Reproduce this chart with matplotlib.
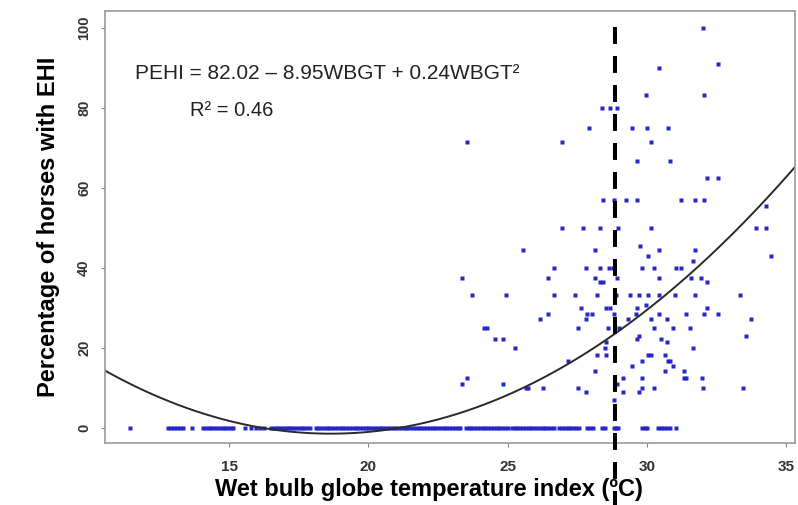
import numpy as np
import matplotlib
matplotlib.use('Agg')
import matplotlib.pyplot as plt

plt.rcParams['font.family'] = ['Liberation Sans', 'DejaVu Sans']

# fitted curve: PEHI = a + b*WBGT + c*WBGT^2
a, b, c = 82.02, -8.95, 0.24
cutoff = 28.85

# horses with EHI > 0
pos_x = [32.02, 32.56, 30.43, 29.95, 32.04, 28.39, 28.69, 28.91, 27.91, 29.45, 30.02, 30.74,
         23.55, 26.96, 30.13, 29.63, 30.82, 32.14, 32.56, 28.43, 28.82, 29.24, 29.63, 31.24,
         31.72, 32.04, 34.29, 26.96, 27.69, 28.31, 28.97, 30.13, 33.93, 34.29, 29.74, 25.56,
         28.13, 30.43, 31.72, 34.45, 30.04, 31.64,
         26.67, 27.81, 28.33, 28.64, 28.79, 29.84, 30.25, 31.04, 31.24,
         23.35, 26.45, 28.13, 28.93, 30.44, 31.57, 31.93,
         28.31, 28.41, 32.14,
         23.73, 24.94, 26.67, 27.41, 28.21, 28.88, 29.38, 29.72, 30.04, 30.44, 31.0, 31.72, 33.34,
         27.62, 28.52, 28.69, 29.65, 29.96, 32.14,
         26.45, 27.83, 28.01, 28.81, 29.60, 30.44, 31.42, 32.04, 32.56,
         26.16, 27.81, 29.33, 30.13, 30.72, 33.75,
         24.16, 24.24, 27.53, 28.61, 29.00, 30.25, 30.92, 31.54,
         29.72, 29.65, 24.54, 24.84, 30.52, 30.72, 33.55,
         28.52, 28.49, 25.26, 31.64,
         28.21, 28.52, 30.04, 30.13, 30.64,
         27.17, 29.84, 30.76, 30.82,
         29.45, 30.94,
         28.13, 30.64, 31.32,
         23.55, 29.15, 29.84, 31.32, 31.42, 31.96,
         23.35, 24.84, 28.93,
         25.65, 25.74, 26.27, 27.53, 29.84, 30.25, 32.02, 33.45,
         27.81, 29.15, 29.72,
         28.81]
pos_y = [100, 90.9, 90, 83.3, 83.3, 80, 80, 80, 75, 75, 75, 75,
         71.4, 71.4, 71.4, 66.7, 66.7, 62.5, 62.5, 57.1, 57.1, 57.1, 57.1, 57.1,
         57.1, 57.1, 55.6, 50, 50, 50, 50, 50, 50, 50, 45.5, 44.4,
         44.4, 44.4, 44.4, 42.9, 42.9, 41.7,
         40, 40, 40, 40, 40, 40, 40, 40, 40,
         37.5, 37.5, 37.5, 37.5, 37.5, 37.5, 37.5,
         36.4, 36.4, 36.4,
         33.3, 33.3, 33.3, 33.3, 33.3, 33.3, 33.3, 33.3, 33.3, 33.3, 33.3, 33.3, 33.3,
         30, 30, 30, 30, 30.8, 30,
         28.6, 28.6, 28.6, 28.6, 28.6, 28.6, 28.6, 28.6, 28.6,
         27.3, 27.3, 27.3, 27.3, 27.3, 27.3,
         25, 25, 25, 25, 25, 25, 25, 25,
         23.1, 22.2, 22.2, 22.2, 22.2, 21.4, 23.1,
         21.4, 20, 20, 20,
         18.2, 18.2, 18.2, 18.2, 18.2,
         16.7, 16.7, 16.7, 16.7,
         15.4, 15.4,
         14.3, 14.3, 14.3,
         12.5, 12.5, 12.5, 12.5, 12.5, 12.5,
         11.1, 11.1, 11.1,
         10, 10, 10, 10, 10, 10, 10, 10,
         9.1, 9.1, 9.1,
         7.1]

# horses with EHI = 0
zero_x = [11.44,
          12.81, 12.92, 13.03, 13.14, 13.25, 13.35,
          13.66,
          14.06, 14.16, 14.26, 14.36, 14.46, 14.56, 14.66, 14.76, 14.86, 14.96, 15.06, 15.14,
          15.55, 15.8, 15.95, 16.1, 16.25,
          16.5, 16.6, 16.7, 16.8, 16.9, 17.0, 17.1, 17.2, 17.3, 17.4, 17.5, 17.6, 17.7, 17.8, 17.9,
          18.1, 18.2, 18.3, 18.4, 18.5, 18.6, 18.7, 18.8, 18.9, 19.0, 19.1, 19.2, 19.3, 19.4,
          19.5, 19.6, 19.7, 19.8, 19.9, 20.0, 20.1, 20.2, 20.3, 20.4, 20.5, 20.6, 20.7, 20.8,
          20.9, 21.0, 21.1, 21.2, 21.3, 21.4, 21.5, 21.6, 21.7, 21.8, 21.9, 22.0, 22.1, 22.2,
          22.3, 22.4, 22.5, 22.6, 22.7, 22.8, 22.9, 23.0, 23.1, 23.2, 23.3,
          23.5, 23.6, 23.7, 23.8, 23.9, 24.0, 24.1, 24.2, 24.3, 24.4, 24.5, 24.6, 24.7, 24.8,
          24.9, 25.0,
          25.15, 25.25, 25.35, 25.45, 25.55, 25.65, 25.75, 25.85, 25.95, 26.05, 26.15, 26.25,
          26.35, 26.45, 26.55, 26.65,
          26.85, 26.95, 27.05, 27.15, 27.25, 27.35, 27.45, 27.55,
          27.85, 27.95, 28.05,
          28.4, 28.5,
          28.8, 28.9, 28.96,
          29.82, 29.92, 30.0,
          30.39, 30.5, 30.6, 30.71,
          30.82, 31.04]

x_ticks = [15, 20, 25, 30, 35]
y_ticks = [0, 20, 40, 60, 80, 100]

fig = plt.figure(figsize=(7.98, 5.05), dpi=100)
ax = fig.add_axes([0.1316, 0.1228, 0.8644, 0.8552])

pt_color = '#2626c4'
ax.plot(pos_x, pos_y, 's', ms=2.2, color=pt_color, mec='none')
ax.plot(zero_x, [0] * len(zero_x), 's', ms=2.4, color=pt_color, mec='none')

xs = np.linspace(10.5, 35.4, 300)
ax.plot(xs, a + b * xs + c * xs ** 2, color='#2a2a2a', lw=1.4)

ax.plot([cutoff, cutoff], [100.3, -19.5], color='black', lw=2.9,
        dashes=(4.2, 3.0), clip_on=False, zorder=5)

ax.set_xlim(10.54, 35.31)
ax.set_ylim(-3.75, 104.25)
ax.set_xticks(x_ticks)
ax.set_yticks(y_ticks)
ax.tick_params(axis='both', colors='#888888', length=3, width=0.8)
ax.tick_params(axis='x', pad=9)
ax.tick_params(axis='y', pad=7)
for lab in ax.get_xticklabels():
    lab.set_fontsize(11)
    lab.set_fontweight('bold')
    lab.set_color('#333333')
    lab.set_family(['Liberation Sans Narrow', 'Liberation Sans'])
for lab in ax.get_yticklabels():
    lab.set_fontsize(10.5)
    lab.set_fontweight('bold')
    lab.set_color('#333333')
    lab.set_rotation(90)
    lab.set_va('center')
    lab.set_family(['Liberation Sans Narrow', 'Liberation Sans'])
for s in ax.spines.values():
    s.set_color('#9a9a9a')
    s.set_linewidth(1.2)

ax.set_xlabel('Wet bulb globe temperature index (ºC)', fontsize=17, fontweight='bold')
ax.xaxis.set_label_coords(0.47, -0.082)
ax.set_ylabel('Percentage of horses with EHI', fontsize=17, fontweight='bold', labelpad=12)

ax.text(11.62, 88.75, 'PEHI = 82.02 – 8.95WBGT + 0.24WBGT²', fontsize=15, va='center', color='#222222')
ax.text(13.6, 79.5, 'R² = 0.46', fontsize=14.5, va='center', color='#222222')

fig.savefig('out.png', dpi=100)
